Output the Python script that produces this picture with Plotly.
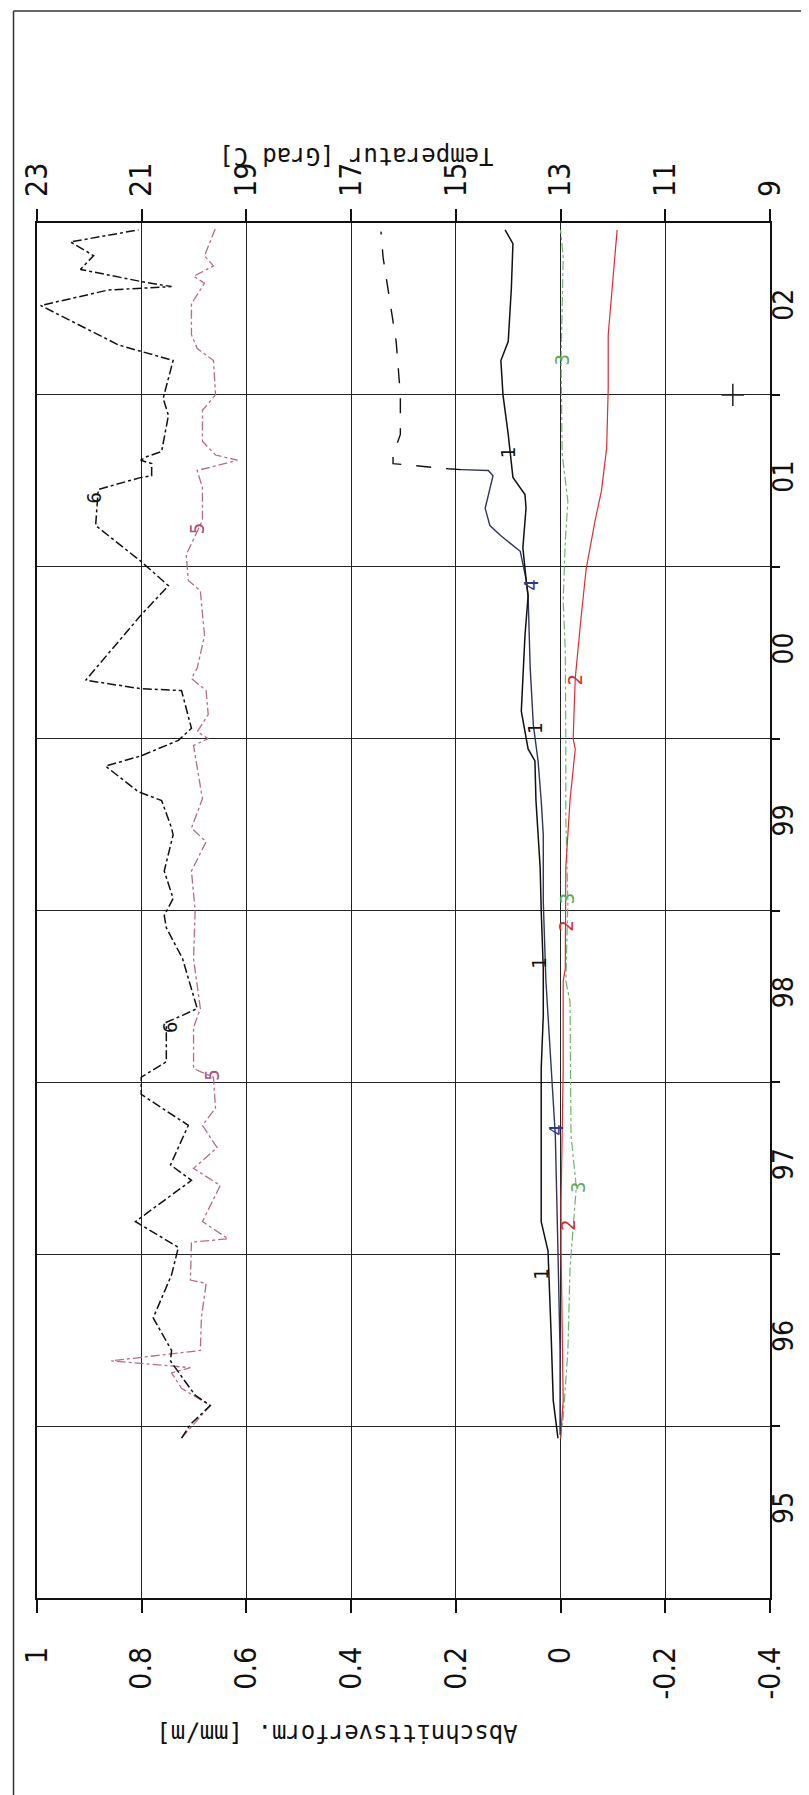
import plotly.graph_objects as go

# ---------------- data ----------------
# value axis (Abschnittsverformung, mm/m) and temperature axis (Grad C)
value_ticks = [1.0, 0.8, 0.6, 0.4, 0.2, 0.0, -0.2, -0.4]
value_ticktext = ["1", "0.8", "0.6", "0.4", "0.2", "0", "-0.2", "-0.4"]
temp_ticks = [23, 21, 19, 17, 15, 13, 11, 9]
year_bounds = [1996, 1997, 1998, 1999, 2000, 2001, 2002]
year_mid = [1995.5, 1996.5, 1997.5, 1998.5, 1999.5, 2000.5, 2001.5, 2002.5]
year_labels = ["95", "96", "97", "98", "99", "00", "01", "02"]

# series 1 (black solid)
s1_year = [1995.93, 1996.15, 1996.53, 1997.02, 1997.19, 1998.08, 1998.39, 1998.66, 1999.00,
           1999.25, 1999.64, 1999.87, 1999.94, 2000.16, 2000.60, 2000.83, 2000.93, 2001.11,
           2001.34, 2001.42, 2001.52, 2001.61, 2001.77, 2002.00, 2002.20, 2002.31, 2002.62,
           2002.88, 2002.96]
s1_val = [0.005, 0.014, 0.018, 0.024, 0.037, 0.037, 0.033, 0.033, 0.037,
          0.039, 0.047, 0.049, 0.062, 0.075, 0.068, 0.062, 0.066, 0.072,
          0.066, 0.068, 0.091, 0.094, 0.100, 0.110, 0.114, 0.100, 0.094,
          0.091, 0.106]

# series 2 (red)
s2_year = [1995.93, 1996.15, 1997.02, 1997.31, 1998.08, 1998.59, 1998.66, 1999.25, 1999.64,
           1999.94, 2000.00, 2000.35, 2000.70, 2000.99, 2001.27, 2001.44, 2001.69, 2002.04,
           2002.35, 2002.96]
s2_val = [0.0, -0.005, -0.001, -0.001, -0.005, -0.005, -0.009, -0.010, -0.018,
          -0.028, -0.024, -0.028, -0.039, -0.049, -0.066, -0.078, -0.088, -0.091,
          -0.091, -0.108]

# series 3 (green dash-dot)
s3_year = [1995.93, 1996.05, 1996.44, 1996.92, 1997.39, 1997.69, 1998.47, 1998.59, 1999.05,
           1999.54, 2000.02, 2000.51, 2000.80, 2001.15, 2001.38, 2001.66, 2002.20, 2002.80,
           2002.96]
s3_val = [0.0, -0.005, -0.014, -0.018, -0.030, -0.020, -0.018, -0.010, -0.014,
          -0.010, -0.010, -0.009, -0.005, -0.009, -0.014, -0.003, -0.001, -0.005,
          0.000]

# series 4 (dark blue), continued as long-dash black after the jump
s4_year = [1995.95, 1996.44, 1997.02, 1997.50, 1997.69, 1997.89, 1998.41, 1998.59, 1999.05,
           1999.44, 1999.64, 1999.87, 2000.08, 2000.41, 2000.83, 2000.93, 2001.09, 2001.18,
           2001.24, 2001.34, 2001.53, 2001.56, 2001.565]
s4_val = [0.001, 0.001, 0.005, 0.009, 0.010, 0.014, 0.024, 0.028, 0.033,
          0.033, 0.037, 0.043, 0.052, 0.058, 0.062, 0.066, 0.077, 0.114,
          0.135, 0.144, 0.129, 0.138, 0.190]
s4b_year = [2001.565, 2001.57, 2001.60, 2001.65, 2001.77, 2002.00, 2002.31, 2002.60, 2002.80, 2002.95]
s4b_val = [0.190, 0.215, 0.320, 0.320, 0.306, 0.306, 0.314, 0.329, 0.339, 0.343]

# series 5 (pink dash-dot, temperature)
s5_year = [1995.93, 1996.12, 1996.22, 1996.31, 1996.34, 1996.38, 1996.44, 1996.63, 1996.83,
           1996.85, 1997.07, 1997.09, 1997.19, 1997.40, 1997.50, 1997.62, 1997.75, 1997.85,
           1998.03, 1998.08, 1998.32, 1998.43, 1998.72, 1999.00, 1999.23, 1999.40, 1999.48,
           1999.65, 1999.96, 2000.00, 2000.04, 2000.14, 2000.28, 2000.35, 2000.41, 2000.60,
           2000.86, 2000.92, 2001.07, 2001.27, 2001.46, 2001.56, 2001.62, 2001.65, 2001.73,
           2001.91, 2002.00, 2002.20, 2002.27, 2002.35, 2002.53, 2002.58, 2002.65, 2002.69,
           2002.75, 2002.81, 2002.97]
s5_temp = [20.24, 19.69, 20.24, 20.43, 20.07, 21.58, 19.88, 19.86, 19.77,
           20.07, 20.05, 19.35, 19.84, 19.50, 20.01, 19.56, 19.84, 19.59,
           19.63, 20.01, 20.01, 19.88, 20.01, 19.98, 20.05, 19.77, 20.05,
           19.84, 20.01, 19.73, 19.94, 19.73, 19.77, 20.05, 19.94, 19.80,
           19.88, 20.11, 20.15, 19.84, 19.84, 19.94, 19.17, 19.59, 19.84,
           19.84, 19.59, 19.63, 19.94, 20.05, 20.05, 19.94, 19.80, 20.01,
           19.63, 19.80, 19.59]

# series 6 (black dash-dot, temperature)
s6_year = [1995.93, 1996.01, 1996.12, 1996.18, 1996.34, 1996.38, 1996.44, 1996.63, 1996.88,
           1997.04, 1997.19, 1997.43, 1997.52, 1997.75, 1997.93, 1998.03, 1998.12, 1998.35,
           1998.39, 1998.43, 1998.72, 1998.90, 1998.97, 1999.07, 1999.23, 1999.44, 1999.48,
           1999.64, 1999.69, 1999.84, 1999.90, 1999.99, 2000.06, 2000.28, 2000.29, 2000.34,
           2000.72, 2000.89, 2001.03, 2001.24, 2001.45, 2001.52, 2001.53, 2001.60, 2001.62,
           2001.64, 2001.67, 2001.88, 2001.98, 2002.20, 2002.29, 2002.52, 2002.61, 2002.63,
           2002.66, 2002.73, 2002.81, 2002.89, 2002.96]
s6_temp = [20.24, 20.07, 19.69, 19.98, 20.36, 20.45, 20.43, 20.78, 20.43,
           20.30, 21.12, 20.05, 20.45, 20.11, 21.01, 21.01, 20.53, 20.53,
           20.22, 19.94, 20.22, 20.53, 20.57, 20.40, 20.57, 20.40, 20.43,
           20.62, 21.06, 21.69, 21.01, 20.30, 20.05, 20.24, 21.01, 22.07,
           21.01, 20.49, 21.01, 21.88, 21.83, 21.01, 20.81, 20.81, 21.02,
           20.91, 20.62, 20.49, 20.59, 20.40, 21.44, 22.93, 21.64, 20.43,
           21.02, 22.17, 21.92, 22.36, 21.06]

# single cross mark
cross_year = [2002.0]
cross_val = [-0.329]

# curve number labels
lab_text = ["6", "6", "5", "5", "1", "1", "1", "1", "4", "4", "2", "2", "2", "3", "3", "3"]
lab_year = [2001.40, 1998.32, 2001.22, 1998.04, 2001.66, 2000.06, 1998.69, 1996.88,
            2000.89, 1997.72, 2000.34, 1998.91, 1997.17, 2002.20, 1999.07, 1997.39]
lab_val = [0.892, 0.745, 0.694, 0.667, 0.100, 0.049, 0.041, 0.037,
           0.058, 0.010, -0.028, -0.010, -0.014, -0.001, -0.014, -0.033]
lab_color = ["#111111", "#111111", "#b0507a", "#b0507a", "#111111", "#111111", "#111111", "#111111",
             "#2b3a8c", "#2b3a8c", "#d23030", "#d23030", "#d23030", "#5caa5c", "#5caa5c", "#5caa5c"]

# ---------------- figure ----------------
W, H = 809, 1795
L, R, T, B = 28.5, 762.0, 215.0, 1590.0

fig = go.Figure()

fig.add_trace(go.Scatter(x=s5_temp, y=s5_year, xaxis="x2", mode="lines",
                         line=dict(color="#b86a8c", width=1.3, dash="dashdot")))
fig.add_trace(go.Scatter(x=s6_temp, y=s6_year, xaxis="x2", mode="lines",
                         line=dict(color="#111111", width=1.5, dash="dashdot")))
fig.add_trace(go.Scatter(x=s3_val, y=s3_year, mode="lines",
                         line=dict(color="#6ab86a", width=1.2, dash="dashdot")))
fig.add_trace(go.Scatter(x=s2_val, y=s2_year, mode="lines",
                         line=dict(color="#d83030", width=1.2)))
fig.add_trace(go.Scatter(x=s4_val, y=s4_year, mode="lines",
                         line=dict(color="#2f3560", width=1.4)))
fig.add_trace(go.Scatter(x=s4b_val, y=s4b_year, mode="lines",
                         line=dict(color="#111111", width=1.4, dash="longdash")))
fig.add_trace(go.Scatter(x=s1_val, y=s1_year, mode="lines",
                         line=dict(color="#111111", width=1.5)))
# cross mark, drawn against the year-label axis (same range as the main year axis)
fig.add_trace(go.Scatter(x=cross_val, y=cross_year, yaxis="y2", mode="markers",
                         marker=dict(symbol="cross-thin", size=16,
                                     line=dict(color="#222222", width=1.5))))

for t, yv, xv, c in zip(lab_text, lab_year, lab_val, lab_color):
    fig.add_annotation(x=xv, y=yv, xref="x", yref="y", text=t, showarrow=False,
                       textangle=-90, font=dict(family="DejaVu Sans Mono", size=19, color=c))

tick_font = dict(family="Liberation Sans Narrow, DejaVu Sans Condensed, DejaVu Sans Mono",
                 size=30, color="#111111")
year_font = dict(family="Liberation Sans Narrow, DejaVu Sans Condensed, DejaVu Sans Mono",
                 size=28, color="#111111")
title_font = dict(family="DejaVu Sans Mono, Liberation Mono", size=24, color="#111111")

fig.update_layout(
    width=W, height=H,
    margin=dict(l=L, r=W - R, t=T, b=H - B, pad=0, autoexpand=False),
    paper_bgcolor="white", plot_bgcolor="white",
    showlegend=False,
    xaxis=dict(range=[1.0, -0.4], tickvals=value_ticks, ticktext=value_ticktext,
               tickangle=-90, ticks="outside", ticklen=13, tickwidth=1.5, tickcolor="#111",
               showline=True, linecolor="#111", linewidth=1.5, mirror=True,
               showgrid=True, gridcolor="#222", gridwidth=1.4, zeroline=False,
               tickfont=tick_font, ticklabelstandoff=22, automargin=False),
    xaxis2=dict(range=[23, 9], overlaying="x", side="top", tickvals=temp_ticks,
                tickangle=-90, ticks="outside", ticklen=13, tickwidth=1.5, tickcolor="#111",
                showgrid=False, showline=False, zeroline=False, tickfont=tick_font,
                ticklabelstandoff=6, automargin=False),
    yaxis=dict(range=[1995, 2003], tickvals=year_bounds, side="right", showticklabels=False,
               ticks="outside", ticklen=8, tickwidth=1.5, tickcolor="#111",
               showline=True, linecolor="#111", linewidth=1.5, mirror=True,
               showgrid=True, gridcolor="#222", gridwidth=1.4, zeroline=False,
               automargin=False),
    yaxis2=dict(range=[1995, 2003], overlaying="y", side="right", tickvals=year_mid,
                ticktext=year_labels, ticks="", showgrid=False, showline=False,
                zeroline=False, tickangle=-90, tickfont=year_font, ticklabelstandoff=-6,
                automargin=False),
)

# axis titles (upside-down, as in the rotated original)
def px_to_paper(px, py):
    return (px - L) / (R - L), (B - py) / (B - T)

ax_, ay_ = px_to_paper(348, 132)
fig.add_annotation(x=ax_, y=ay_, xref="paper", yref="paper", text="Temperatur [Grad C]",
                   showarrow=False, textangle=180, font=title_font)
bx_, by_ = px_to_paper(329, 1741)
fig.add_annotation(x=bx_, y=by_, xref="paper", yref="paper", text="Abschnittsverform. [mm/m]",
                   showarrow=False, textangle=180, font=title_font)

# outer frame of the scanned sheet
fx0, fy0 = px_to_paper(5, 3)
fx1, fy1 = px_to_paper(807, 1792)
fig.add_shape(type="line", xref="paper", yref="paper", x0=fx0, x1=fx0, y0=fy0, y1=fy1,
              line=dict(color="#333", width=1.5))
fig.add_shape(type="line", xref="paper", yref="paper", x0=fx0, x1=fx1, y0=fy0, y1=fy0,
              line=dict(color="#333", width=1.5))
fig.add_shape(type="line", xref="paper", yref="paper", x0=fx1, x1=fx1, y0=fy0, y1=fy1,
              line=dict(color="#333", width=2))

fig.write_html("out.html")
